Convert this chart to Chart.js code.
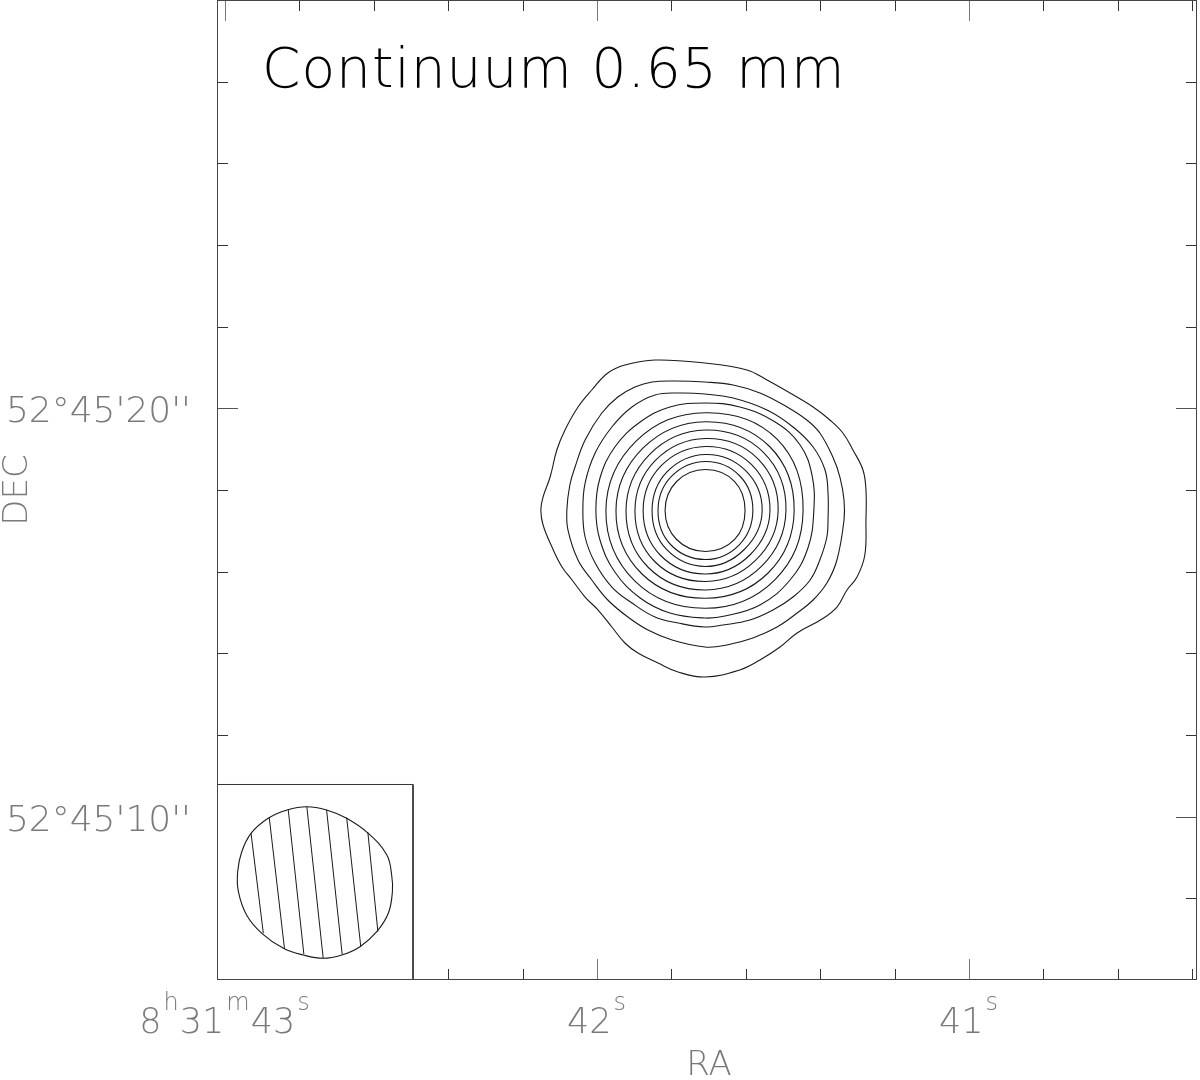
<!DOCTYPE html>
<html>
<head>
<meta charset="utf-8">
<script src="https://cdn.jsdelivr.net/npm/chart.js@4.4.1/dist/chart.umd.min.js"></script>
<style>
html, body { margin: 0; padding: 0; background: #fff; }
#chart { display: block; }
</style>
</head>
<body>
<canvas id="chart" width="1200" height="1080"></canvas>
<script>
// axis ranges: RA in seconds of 8h31m, DEC in arcsec above 52d45'00"
const raRange = [40.3871, 43.0215];
const decRange = [6, 30];

const raTicks = [40.4, 40.6, 40.8, 41.0, 41.2, 41.4, 41.6, 41.8, 42.0, 42.2, 42.4, 42.6, 42.8, 43.0];
const raLabelTicks = [43, 42, 41];
const raLabels = ['8{h}31{m}43{s}', '42{s}', '41{s}'];
const decTicks = [8, 10, 12, 14, 16, 18, 20, 22, 24, 26, 28];
const decLabelTicks = [20, 10];
const decLabels = ["52°45'20''", "52°45'10''"];

const title = 'Continuum 0.65 mm';
const xTitle = 'RA';
const yTitle = 'DEC';

// contours, outermost first, as [RA s, DEC arcsec]
const contour1 = [
  [41.844, 21.184], [41.710, 21.110], [41.597, 20.939], [41.543, 20.694], [41.481, 20.375],
  [41.419, 20.032], [41.374, 19.714], [41.339, 19.396], [41.312, 18.979], [41.285, 18.490],
  [41.277, 18.000], [41.277, 17.265], [41.280, 16.408], [41.301, 15.869], [41.328, 15.551],
  [41.355, 15.134], [41.395, 14.841], [41.462, 14.498], [41.508, 14.155], [41.562, 13.836],
  [41.616, 13.592], [41.710, 13.420], [41.782, 13.543], [41.836, 13.763], [41.890, 14.008],
  [41.925, 14.253], [41.960, 14.645], [41.997, 15.061], [42.032, 15.379], [42.067, 15.796],
  [42.094, 16.114], [42.121, 16.604], [42.145, 17.143], [42.151, 17.510], [42.145, 17.828],
  [42.126, 18.318], [42.108, 18.979], [42.086, 19.469], [42.051, 20.032], [42.014, 20.449],
  [41.971, 20.865], [41.925, 21.061]
];
const contour2 = [
  [41.710, 20.645], [41.634, 20.571], [41.562, 20.375], [41.489, 20.032], [41.436, 19.714],
  [41.401, 19.396], [41.366, 18.808], [41.347, 18.318], [41.336, 17.755], [41.336, 17.265],
  [41.355, 16.286], [41.382, 15.722], [41.419, 15.306], [41.462, 14.988], [41.516, 14.645],
  [41.581, 14.375], [41.651, 14.204], [41.710, 14.155], [41.798, 14.326], [41.863, 14.571],
  [41.917, 14.890], [41.971, 15.306], [42.014, 15.796], [42.051, 16.286], [42.078, 17.020],
  [42.081, 17.510], [42.073, 18.122], [42.059, 18.563], [42.032, 19.224], [41.987, 19.886],
  [41.944, 20.277], [41.898, 20.522], [41.852, 20.645], [41.790, 20.669]
];
const contour3 = [
  [41.710, 20.351], [41.634, 20.253], [41.543, 19.959], [41.473, 19.543], [41.419, 19.053],
  [41.387, 18.490], [41.379, 17.926], [41.379, 17.265], [41.382, 16.849], [41.401, 16.286],
  [41.427, 15.796], [41.473, 15.379], [41.527, 15.061], [41.589, 14.816], [41.661, 14.694],
  [41.710, 14.645], [41.782, 14.743], [41.844, 14.890], [41.906, 15.232], [41.960, 15.624],
  [42.005, 16.212], [42.032, 16.849], [42.038, 17.510], [42.032, 18.171], [42.005, 18.906],
  [41.960, 19.543], [41.906, 20.032], [41.844, 20.326], [41.782, 20.375]
];
const contour4 = [
  [41.710, 20.131], [41.616, 20.033], [41.521, 19.665], [41.454, 19.102], [41.422, 18.367],
  [41.417, 17.510], [41.433, 16.579], [41.481, 15.796], [41.562, 15.184], [41.656, 14.914],
  [41.710, 14.865], [41.804, 14.988], [41.884, 15.355], [41.952, 15.992], [41.992, 16.775],
  [42.003, 17.510], [41.992, 18.294], [41.952, 19.053], [41.884, 19.665], [41.804, 20.033]
];
const contour5 = [[41.446, 17.498], [41.516, 19.247], [41.708, 19.893], [41.895, 19.195], [41.976, 17.498], [41.898, 15.767], [41.708, 15.103], [41.522, 15.801]];
const contour6 = [[41.470, 17.498], [41.536, 19.065], [41.708, 19.673], [41.876, 19.029], [41.949, 17.498], [41.879, 15.943], [41.708, 15.348], [41.540, 15.967]];
const contour7 = [[41.492, 17.498], [41.552, 18.918], [41.708, 19.469], [41.859, 18.869], [41.922, 17.498], [41.862, 16.102], [41.708, 15.551], [41.558, 16.127]];
const contour8 = [[41.513, 17.498], [41.568, 18.771], [41.708, 19.261], [41.843, 18.723], [41.898, 17.498], [41.845, 16.249], [41.708, 15.759], [41.574, 16.274]];
const contour9 = [[41.535, 17.498], [41.585, 18.625], [41.708, 19.065], [41.828, 18.588], [41.876, 17.498], [41.829, 16.396], [41.708, 15.943], [41.589, 16.408]];
const contour10 = [[41.556, 17.498], [41.601, 18.478], [41.708, 18.869], [41.812, 18.441], [41.852, 17.498], [41.813, 16.543], [41.708, 16.127], [41.604, 16.543]];
const contour11 = [[41.581, 17.498], [41.616, 18.343], [41.708, 18.698], [41.800, 18.331], [41.836, 17.498], [41.801, 16.653], [41.708, 16.298], [41.617, 16.665]];
const contour12 = [[41.602, 17.498], [41.630, 18.208], [41.708, 18.502], [41.786, 18.208], [41.817, 17.498], [41.786, 16.788], [41.708, 16.494], [41.630, 16.788]];
const contours = [contour1, contour2, contour3, contour4, contour5, contour6,
  contour7, contour8, contour9, contour10, contour11, contour12];

// beam, bottom-left corner
const beamBox = [[43.0215, 6], [43.0215, 10.788], [42.4946, 10.788], [42.4946, 6]];
const beamEdge = [
  [42.780, 10.244], [42.727, 10.163], [42.673, 9.960], [42.615, 9.592], [42.565, 9.061],
  [42.552, 8.571], [42.550, 8.162], [42.561, 7.633], [42.592, 7.183], [42.637, 6.815],
  [42.686, 6.612], [42.736, 6.531], [42.790, 6.612], [42.843, 6.776], [42.901, 7.143],
  [42.942, 7.592], [42.964, 8.162], [42.966, 8.652], [42.955, 9.142], [42.930, 9.592],
  [42.884, 9.960], [42.833, 10.163]
];
const hatchTop = [[42.930, 9.592], [42.881, 9.975], [42.830, 10.170], [42.780, 10.244], [42.727, 10.170], [42.673, 9.980], [42.616, 9.620]];
const hatchBottom = [[42.897, 7.145], [42.840, 6.760], [42.788, 6.630], [42.736, 6.531], [42.685, 6.630], [42.635, 6.815], [42.589, 7.183]];

const lineColor = '#1a1a1a';
const labelColor = '#7a7a7a';
const fontFamily = '"DejaVu Sans", sans-serif';

function toXY(pts) {
  return pts.map(function(p) { return { x: p[0], y: p[1] }; });
}

// closed curve: wrap neighbours so tangents are smooth, hide the wrap segments
function closedCurve(pts, color, width) {
  var n = pts.length;
  var wrapped = [pts[n - 1]].concat(pts, [pts[0], pts[1]]);
  return {
    data: toXY(wrapped),
    showLine: true,
    borderColor: color,
    borderWidth: width,
    pointRadius: 0,
    tension: 0.4,
    fill: false,
    segment: {
      borderColor: function(ctx) {
        return (ctx.p0DataIndex === 0 || ctx.p0DataIndex === n + 1) ? 'rgba(0,0,0,0)' : color;
      }
    }
  };
}

var datasets = [];
contours.forEach(function(c) {
  datasets.push(closedCurve(c, lineColor, 1.1));
});

datasets.push({
  data: toXY(beamBox),
  showLine: true,
  borderColor: '#333',
  borderWidth: 1,
  backgroundColor: '#ffffff',
  fill: 'start',
  pointRadius: 0,
  tension: 0,
  order: 10
});
datasets.push(closedCurve(beamEdge, lineColor, 1.1));
hatchTop.forEach(function(p, i) {
  datasets.push({
    data: toXY([p, hatchBottom[i]]),
    showLine: true,
    borderColor: lineColor,
    borderWidth: 1,
    pointRadius: 0,
    tension: 0
  });
});

function isWhole(v, step) {
  return Math.abs(v / step - Math.round(v / step)) < 1e-6;
}

function parseLabel(s) {
  var parts = [];
  var re = /([^{]+)|\{([^}]*)\}/g;
  var m;
  while ((m = re.exec(s))) {
    if (m[1]) parts.push({ t: m[1], sup: false });
    else parts.push({ t: m[2], sup: true });
  }
  return parts;
}

const frameAxes = {
  id: 'frameAxes',
  beforeDatasetsDraw: function(chart) {
    var ctx = chart.ctx;
    var a = chart.chartArea;
    var xs = chart.scales.x;
    var ys = chart.scales.y;
    ctx.save();
    ctx.lineWidth = 1;
    raTicks.forEach(function(v) {
      var x = Math.round(xs.getPixelForValue(v)) + 0.5;
      var major = isWhole(v, 1);
      var len = major ? 21 : 11;
      ctx.strokeStyle = major ? '#777' : '#333';
      ctx.beginPath();
      ctx.moveTo(x, a.bottom);
      ctx.lineTo(x, a.bottom - len);
      ctx.moveTo(x, a.top);
      ctx.lineTo(x, a.top + len);
      ctx.stroke();
    });
    decTicks.forEach(function(v) {
      var y = Math.round(ys.getPixelForValue(v)) + 0.5;
      var major = isWhole(v, 10);
      var len = major ? 21 : 11;
      ctx.strokeStyle = major ? '#555' : '#333';
      ctx.beginPath();
      ctx.moveTo(a.left, y);
      ctx.lineTo(a.left + len, y);
      ctx.moveTo(a.right, y);
      ctx.lineTo(a.right - len, y);
      ctx.stroke();
    });
    ctx.restore();
  },
  afterDatasetsDraw: function(chart) {
    var ctx = chart.ctx;
    var a = chart.chartArea;
    var xs = chart.scales.x;
    var ys = chart.scales.y;
    ctx.save();
    ctx.strokeStyle = '#444';
    ctx.lineWidth = 1;
    ctx.strokeRect(a.left + 0.5, a.top + 0.5, a.right - a.left - 1, a.bottom - a.top - 1);

    // title inside the frame
    ctx.fillStyle = '#000';
    ctx.font = '200 55px ' + fontFamily;
    ctx.textAlign = 'left';
    ctx.textBaseline = 'alphabetic';
    ctx.letterSpacing = '1px';
    ctx.fillText(title, 262, 87);
    ctx.letterSpacing = '0px';

    ctx.fillStyle = labelColor;
    // DEC tick labels
    ctx.font = '200 36px ' + fontFamily;
    ctx.textAlign = 'right';
    decLabelTicks.forEach(function(v, i) {
      var y = ys.getPixelForValue(v);
      ctx.fillText(decLabels[i], a.left - 26, y + 14);
    });

    // RA tick labels with superscripts
    var mainFont = '200 35px ' + fontFamily;
    var supFont = '200 24px ' + fontFamily;
    ctx.textAlign = 'left';
    raLabelTicks.forEach(function(v, i) {
      var parts = parseLabel(raLabels[i]);
      var total = 0;
      parts.forEach(function(p) {
        ctx.font = p.sup ? supFont : mainFont;
        p.w = ctx.measureText(p.t).width + (p.sup ? 2 : 1);
        total += p.w;
      });
      var x = xs.getPixelForValue(v) - total / 2;
      var base = a.bottom + 53;
      parts.forEach(function(p) {
        ctx.font = p.sup ? supFont : mainFont;
        ctx.fillText(p.t, x + (p.sup ? 1 : 0), p.sup ? base - 23 : base);
        x += p.w;
      });
    });

    // axis titles
    ctx.font = '200 34px ' + fontFamily;
    ctx.textAlign = 'center';
    ctx.fillText(xTitle, (a.left + a.right) / 2 + 2, a.bottom + 95);
    ctx.translate(27, (a.top + a.bottom) / 2);
    ctx.rotate(-Math.PI / 2);
    ctx.fillText(yTitle, 0, 0);
    ctx.restore();
  }
};

new Chart(document.getElementById('chart'), {
  type: 'scatter',
  data: { datasets: datasets },
  options: {
    responsive: false,
    animation: false,
    devicePixelRatio: 1,
    events: [],
    layout: { padding: { left: 217, top: 0, right: 3, bottom: 100 } },
    scales: {
      x: { type: 'linear', display: false, reverse: true, min: raRange[0], max: raRange[1] },
      y: { type: 'linear', display: false, min: decRange[0], max: decRange[1] }
    },
    plugins: {
      legend: { display: false },
      tooltip: { enabled: false },
      title: { display: false }
    }
  },
  plugins: [frameAxes]
});
</script>
</body>
</html>
